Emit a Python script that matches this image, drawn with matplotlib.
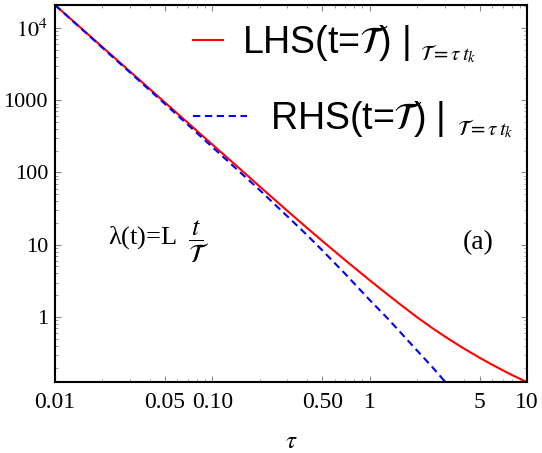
import numpy as np
import matplotlib
matplotlib.use('Agg')
import matplotlib.pyplot as plt
from matplotlib.ticker import FixedLocator, FixedFormatter, NullFormatter

plt.rcParams['font.family'] = ['Liberation Serif', 'DejaVu Serif']
plt.rcParams['mathtext.fontset'] = 'stix'

# values
tau = [0.01, 0.02, 0.03, 0.05, 0.07, 0.1, 0.15, 0.2, 0.3, 0.4, 0.5, 0.7, 1, 1.3,
       1.6, 2, 2.5, 3, 3.5, 4, 5, 6, 7, 8, 9, 10]
lhs = [20800, 5460, 2495, 931, 486, 244, 112, 64.1, 29.4, 17.1, 11.3, 6.1, 3.23,
       2.05, 1.44, 0.994, 0.703, 0.539, 0.435, 0.363, 0.273, 0.219, 0.1835,
       0.158, 0.140, 0.1256]

tau_rhs = [0.01, 0.02, 0.03, 0.05, 0.07, 0.1, 0.15, 0.2, 0.3, 0.4, 0.5, 0.7, 1,
           1.3, 1.6, 2, 2.5, 3, 3.5]
rhs = [20800, 5330, 2420, 889, 457, 225, 101, 57.1, 24.7, 13.6, 8.36, 3.94, 1.72,
       0.957, 0.585, 0.344, 0.203, 0.129, 0.0867]

xticks = [0.01, 0.05, 0.1, 0.5, 1, 5, 10]
xticklabels = ['0.01', '0.05', '0.10', '0.50', '1', '5', '10']
yticks = [1, 10, 100, 1000, 10000]
yticklabels = ['1', '10', '100', '1000', r'$10^4$']

fig = plt.figure(figsize=(5.42, 4.53), dpi=100)
ax = fig.add_axes([55/542, 1 - 382/453, 472/542, 377/453])

l1, = ax.plot(tau, lhs, color='red', lw=1.5)
l2, = ax.plot(tau_rhs, rhs, color='blue', lw=1.5, dashes=(3.5, 2.2))

ax.set_xscale('log')
ax.set_yscale('log')
ax.set_xlim(0.01, 10)
ax.set_ylim(0.126, 20800)

ax.xaxis.set_major_locator(FixedLocator(xticks))
ax.xaxis.set_major_formatter(FixedFormatter(xticklabels))
ax.xaxis.set_minor_formatter(NullFormatter())
ax.yaxis.set_major_locator(FixedLocator(yticks))
ax.yaxis.set_major_formatter(FixedFormatter(yticklabels))
ax.yaxis.set_minor_formatter(NullFormatter())

ax.tick_params(which='both', direction='in', top=True, right=True,
               color='#888888')
ax.tick_params(which='major', length=4, width=0.8)
ax.tick_params(which='minor', length=2.2, width=0.6)
ax.tick_params(axis='x', labelsize=17, pad=7)
ax.tick_params(axis='y', labelsize=16, pad=5)
for s in ax.spines.values():
    s.set_linewidth(1.5)

ax.set_xlabel(r'$\tau$', fontsize=18, labelpad=13)

# legends (two separate ones as in the figure)
leg1 = ax.legend([l1], [r'LHS(t=$\mathcal{T}$) |'], loc='center left',
                 bbox_to_anchor=(0.292, 0.899), frameon=False, borderpad=0,
                 borderaxespad=0, handlelength=0.8, handletextpad=0.5,
                 prop={'family': 'Liberation Sans', 'size': 27})
ax.add_artist(leg1)
ax.legend([l2], [r'RHS(t=$\mathcal{T}$) |'], loc='center left',
          bbox_to_anchor=(0.292, 0.698), frameon=False, borderpad=0,
          borderaxespad=0, handlelength=1.45, handletextpad=0.62,
          prop={'family': 'Liberation Sans', 'size': 27})

ax.text(0.773, 0.870, r'$\mathcal{T}=\tau\,t_k$', transform=ax.transAxes,
        fontsize=15, va='center', ha='left')
ax.text(0.852, 0.671, r'$\mathcal{T}=\tau\,t_k$', transform=ax.transAxes,
        fontsize=15, va='center', ha='left')

ax.text(0.112, 0.372, r'λ(t)=L $\;\dfrac{t}{\mathcal{T}}$',
        transform=ax.transAxes, fontsize=19, va='center', ha='left')
ax.text(0.864, 0.369, '(a)', transform=ax.transAxes, fontsize=20,
        va='center', ha='left')

fig.savefig('out.png', dpi=100)
